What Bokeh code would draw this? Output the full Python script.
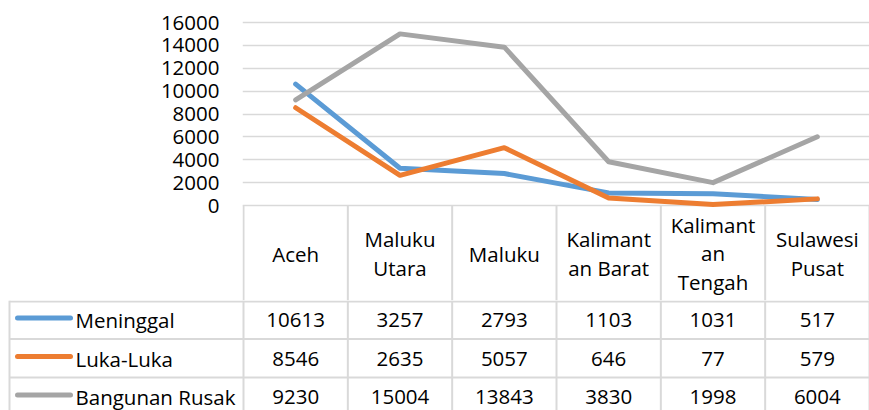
from bokeh.plotting import figure
from bokeh.models import Range1d, FixedTicker, NumeralTickFormatter
from bokeh.layouts import column
from bokeh.embed import file_html
from bokeh.resources import INLINE
from bokeh.core.properties import value

# ---------------- data ----------------
categories = ["Aceh", "Maluku Utara", "Maluku", "Kalimantan Barat", "Kalimantan Tengah", "Sulawesi Pusat"]
header_labels = ["Aceh", "Maluku\nUtara", "Maluku", "Kalimant\nan Barat", "Kalimant\nan\nTengah", "Sulawesi\nPusat"]
series_names = ["Meninggal", "Luka-Luka", "Bangunan Rusak"]
meninggal = [10613, 3257, 2793, 1103, 1031, 517]
luka_luka = [8546, 2635, 5057, 646, 77, 579]
bangunan_rusak = [9230, 15004, 13843, 3830, 1998, 6004]
y_ticks = [0, 2000, 4000, 6000, 8000, 10000, 12000, 14000, 16000]

series_values = [meninggal, luka_luka, bangunan_rusak]
colors = ["#5B9BD5", "#ED7D31", "#A5A5A5"]

# ---------------- layout constants ----------------
FONT = "Open Sans"
FS = "20.5px"
TXT = "#000000"
BORDER = "#D9D9D9"
CANVAS_W = 869
LEFT = 243                 # x of the first category column
W = (CANVAS_W - LEFT) / 6  # px per category column
K = 16000 / 183            # value units per px
n = len(categories)
xs = [i + 0.5 for i in range(n)]

# ---------------- chart + header row ----------------
HA = 300
y_start = -95 * K
y_end = 193 * K
pA = figure(width=CANVAS_W, height=HA, output_backend="svg", toolbar_location=None,
            x_range=Range1d(-1 / W, n), y_range=Range1d(y_start, y_end),
            x_axis_location=None, min_border_left=LEFT - 1, min_border_right=0,
            min_border_top=12, min_border_bottom=0)
pA.frame_align = False
pA.outline_line_color = None
pA.background_fill_color = "white"
pA.border_fill_color = "white"
pA.xgrid.visible = False
pA.ygrid.ticker = FixedTicker(ticks=y_ticks)
pA.ygrid.grid_line_color = BORDER
pA.ygrid.grid_line_width = 1.5

ax = pA.yaxis[0]
ax.ticker = FixedTicker(ticks=y_ticks)
ax.formatter = NumeralTickFormatter(format="0")
ax.axis_line_color = None
ax.major_tick_line_color = None
ax.minor_tick_line_color = None
ax.major_tick_out = 0
ax.major_tick_in = 0
ax.major_label_standoff = 23
ax.major_label_text_font = FONT
ax.major_label_text_font_size = FS
ax.major_label_text_color = TXT

# column borders in header row
bounds = list(range(n + 1))
pA.segment(x0=bounds, y0=[0] * len(bounds), x1=bounds, y1=[y_start] * len(bounds),
           line_color=BORDER, line_width=2)

for vals, c in zip(series_values, colors):
    pA.line(xs, vals, line_color=c, line_width=5, line_join="round", line_cap="round")

hdr_y = -48 * K
pA.text(x=xs, y=[hdr_y] * n, text=header_labels, text_align="center", text_baseline="middle",
        text_font=value(FONT), text_font_size=value(FS), text_color=TXT, text_line_height=1.02)

# ---------------- data table ----------------
HB = 410 - HA
pB = figure(width=CANVAS_W, height=HB, output_backend="svg", toolbar_location=None,
            x_range=Range1d(-LEFT / W, (CANVAS_W - LEFT) / W), y_range=Range1d(HB, 0),
            x_axis_location=None, y_axis_location=None,
            min_border_left=0, min_border_right=0, min_border_top=0, min_border_bottom=0)
pB.frame_align = False
pB.outline_line_color = None
pB.background_fill_color = "white"
pB.border_fill_color = "white"
pB.grid.visible = False

def px(xp):
    return (xp - LEFT) / W

row_lines = [1, 38.5, 77]
pB.segment(x0=[px(9)] * 3, y0=row_lines, x1=[n] * 3, y1=row_lines, line_color=BORDER, line_width=2)
vx = [px(9)] + bounds
pB.segment(x0=vx, y0=[0] * len(vx), x1=vx, y1=[HB] * len(vx), line_color=BORDER, line_width=2)

row_centers = [19.5, 58, 96.5]
for name, vals, c, yc in zip(series_names, series_values, colors, row_centers):
    pB.segment(x0=[px(17)], y0=[yc - 2], x1=[px(70)], y1=[yc - 2], line_color=c, line_width=5, line_cap="round")
    pB.text(x=[px(75)], y=[yc], text=[name], text_align="left", text_baseline="middle",
            text_font=value(FONT), text_font_size=value(FS), text_color=TXT)
    pB.text(x=xs, y=[yc] * n, text=[str(v) for v in vals], text_align="center", text_baseline="middle",
            text_font=value(FONT), text_font_size=value(FS), text_color=TXT)

layout = column(pA, pB, spacing=0)
open("out.html", "w").write(file_html(layout, INLINE))
